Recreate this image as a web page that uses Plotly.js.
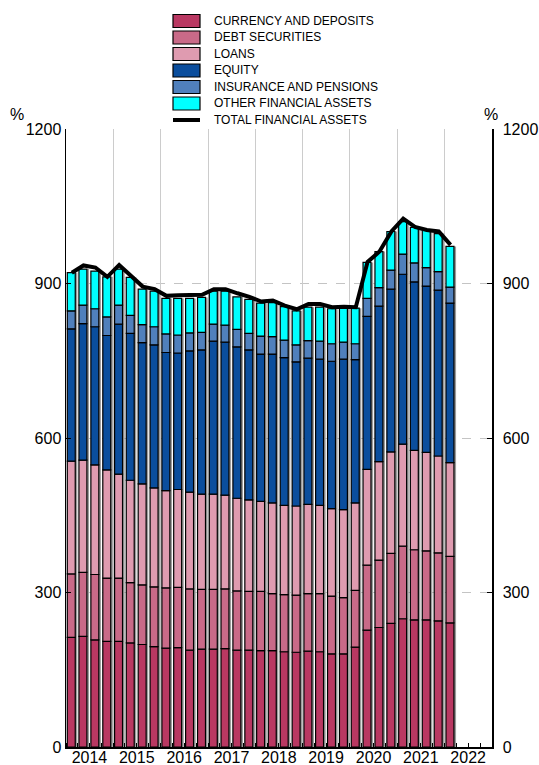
<!DOCTYPE html>
<html>
<head>
<meta charset="utf-8">
<script src="https://cdn.plot.ly/plotly-3.0.1.min.js"></script>
<style>
  html, body { margin: 0; padding: 0; background: #fff; }
  #chart { width: 539px; height: 765px; }
</style>
</head>
<body>
<div id="chart"></div>
<script>
// Quarterly periods, 2014Q1 .. 2022Q1
const periods = ["2014Q1","2014Q2","2014Q3","2014Q4","2015Q1","2015Q2","2015Q3","2015Q4",
  "2016Q1","2016Q2","2016Q3","2016Q4","2017Q1","2017Q2","2017Q3","2017Q4",
  "2018Q1","2018Q2","2018Q3","2018Q4","2019Q1","2019Q2","2019Q3","2019Q4",
  "2020Q1","2020Q2","2020Q3","2020Q4","2021Q1","2021Q2","2021Q3","2021Q4","2022Q1"];

const currency  = [213,215,208,205,205,202,199,195,192,193,188,190,190,191,188,188,187,187,185,184,186,185,181,181,194,227,232,240,249,247,247,245,241];
const debt      = [123,124,127,123,123,117,116,116,117,117,119,116,116,116,115,114,115,111,111,111,112,113,112,109,110,126,131,136,141,136,134,132,129];
const loans     = [219,218,213,210,202,199,196,192,189,190,188,185,185,182,180,178,175,176,173,173,173,171,170,171,170,186,191,197,198,193,191,188,182];
const equity    = [257,265,268,261,291,285,274,278,268,265,274,280,297,297,294,291,286,289,287,280,284,284,286,292,278,297,302,316,330,327,323,322,310];
const insurance = [35,36,35,36,37,35,35,35,36,35,35,34,33,33,34,32,35,34,34,33,34,35,34,33,31,35,36,37,39,37,36,36,31];
const other     = [74,70,73,78,70,74,69,69,69,71,67,68,64,66,63,66,64,66,65,66,65,66,68,66,69,70,70,75,63,69,73,74,79];
const total     = [921,935,931,913,936,915,894,889,876,877,878,878,889,889,881,874,865,867,857,850,860,860,854,855,854,942,962,1001,1026,1010,1004,1001,975];

const yearTicks = ["2014","2015","2016","2017","2018","2019","2020","2021","2022"];
const yTicks = [0, 300, 600, 900, 1200];

const seriesNames  = ["CURRENCY AND DEPOSITS","DEBT SECURITIES","LOANS","EQUITY","INSURANCE AND PENSIONS","OTHER FINANCIAL ASSETS"];
const seriesColors = ["#B93862","#C96A88","#DF9BB0","#0B4E9D","#5080BC","#00FFFF"];
const totalName = "TOTAL FINANCIAL ASSETS";
const seriesData   = [currency, debt, loans, equity, insurance, other];

// quarter centre as a date
function quarterMid(p) {
  const y = parseInt(p.slice(0,4), 10);
  const q = parseInt(p.slice(5), 10);
  const start = Date.UTC(y, (q-1)*3, 1);
  const end = Date.UTC(y, q*3, 1);
  return new Date((start + end) / 2).toISOString().slice(0,10);
}
const xs = periods.map(quarterMid);

const YEAR = 365.25 * 86400000;
const W = 0.168 * YEAR;
const OFF = -W/2 - 0.012 * YEAR;
const SH = 0.045 * YEAR;

const traces = [];
// dummy trace so the year-grid axis is drawn
traces.push({ type: "scatter", x: [xs[0]], y: [0], xaxis: "x2", mode: "markers", marker: { opacity: 0 }, showlegend: false, hoverinfo: "skip" });
// shadow behind the stacks
const stackTop = periods.map((_, i) => seriesData.reduce((s, a) => s + a[i], 0));
traces.push({
  type: "bar", x: xs, y: stackTop, base: 0,
  width: W, offset: OFF + SH,
  marker: { color: "#9c9c9c", line: { width: 0 } },
  showlegend: false, hoverinfo: "skip"
});
const cum = periods.map(() => 0);
seriesData.forEach((arr, k) => {
  const base = cum.slice();
  traces.push({
    type: "bar", name: seriesNames[k], x: xs, y: arr, base: base,
    width: W, offset: OFF,
    marker: { color: seriesColors[k], line: { color: "#000", width: 1.2 } }
  });
  arr.forEach((v, i) => cum[i] += v);
});
traces.push({
  type: "scatter", mode: "lines", name: totalName,
  x: xs, y: total, yaxis: "y2",
  line: { color: "#000", width: 4 }
});

// ---- layout geometry (pixels) ----
const M = { l: 66, r: 47, t: 129, b: 18 };
const PW = 539 - M.l - M.r, PH = 765 - M.t - M.b;
const px = x => (x - M.l) / PW;
const py = y => (765 - M.b - y) / PH;

// hand-built legend (compact row spacing like the reference)
const shapes = [], annotations = [];
const legTop = 21, legStep = 16.5, boxL = 173, boxR = 200, txtX = 212;
seriesNames.forEach((nm, k) => {
  const cy = legTop + k * legStep;
  shapes.push({ type: "rect", xref: "paper", yref: "paper",
    x0: px(boxL), x1: px(boxR), y0: py(cy + 6.5), y1: py(cy - 6.5),
    fillcolor: seriesColors[k], line: { color: "#000", width: 1.2 } });
  annotations.push({ text: nm, xref: "paper", yref: "paper", x: px(txtX), y: py(cy),
    xanchor: "left", yanchor: "middle", showarrow: false, font: { size: 12 } });
});
{
  const cy = legTop + seriesNames.length * legStep;
  shapes.push({ type: "line", xref: "paper", yref: "paper",
    x0: px(boxL), x1: px(boxR), y0: py(cy), y1: py(cy), line: { color: "#000", width: 4 } });
  annotations.push({ text: totalName, xref: "paper", yref: "paper", x: px(txtX), y: py(cy),
    xanchor: "left", yanchor: "middle", showarrow: false, font: { size: 12 } });
}
annotations.push({ text: "%", xref: "paper", yref: "paper", x: px(17), y: py(115), xanchor: "center", yanchor: "middle", showarrow: false, font: { size: 16 } });
annotations.push({ text: "%", xref: "paper", yref: "paper", x: px(491), y: py(115), xanchor: "center", yanchor: "middle", showarrow: false, font: { size: 16 } });

const fontFam = "Liberation Sans, Arial, Helvetica, sans-serif";
const layout = {
  width: 539, height: 765,
  margin: { l: M.l, r: M.r, t: M.t, b: M.b, pad: 0, autoexpand: false },
  paper_bgcolor: "#fff", plot_bgcolor: "#fff",
  barmode: "overlay",
  font: { family: fontFam, color: "#000", size: 16 },
  showlegend: false,
  xaxis: {
    type: "date", range: ["2014-01-01", "2023-01-01"],
    tickmode: "array",
    tickvals: yearTicks.map(y => y + "-07-01"),
    ticktext: yearTicks,
    ticks: "", showgrid: false,
    showline: true, linecolor: "#000", linewidth: 1.5,
    tickfont: { size: 16 }, ticklabelstandoff: -5,
    minor: { tickmode: "linear", tick0: "2014-01-01", dtick: "M3", ticks: "inside", ticklen: 4, tickcolor: "#000", showgrid: false },
    zeroline: false, fixedrange: true
  },
  xaxis2: {
    type: "date", overlaying: "x", range: ["2014-01-01", "2023-01-01"],
    tickmode: "linear", tick0: "2014-01-01", dtick: "M12",
    showticklabels: false, ticks: "", showgrid: true, gridcolor: "#cccccc", gridwidth: 1,
    showline: false, zeroline: false
  },
  yaxis: {
    range: [0, 1200], tickvals: yTicks,
    ticks: "inside", ticklen: 5, tickcolor: "#000",
    showline: true, linecolor: "#000", linewidth: 1.5,
    showgrid: true, gridcolor: "#c4c4c4", griddash: "dash", gridwidth: 1,
    zeroline: false, tickfont: { size: 16 }
  },
  yaxis2: {
    range: [0, 1200], tickvals: yTicks,
    overlaying: "y", side: "right",
    ticks: "inside", ticklen: 5, tickcolor: "#000",
    showline: true, linecolor: "#000", linewidth: 1.5,
    showgrid: false, zeroline: false, tickfont: { size: 16 }, ticklabelstandoff: 6
  },
  shapes: shapes,
  annotations: annotations
};

Plotly.newPlot("chart", traces, layout, { displayModeBar: false, staticPlot: true });
</script>
</body>
</html>
